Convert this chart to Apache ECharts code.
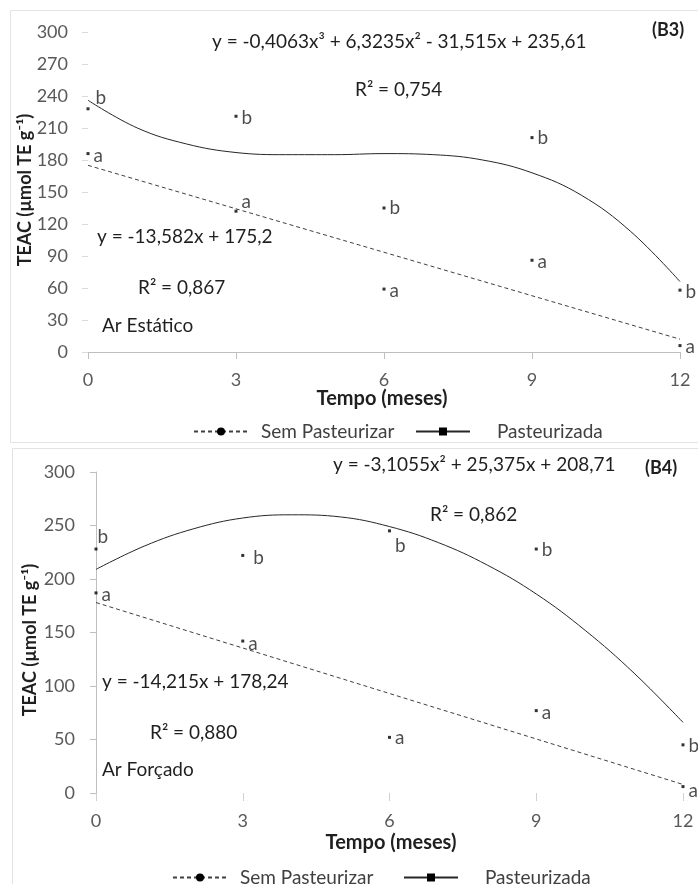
<!DOCTYPE html>
<html>
<head>
<meta charset="utf-8">
<script src="https://cdn.jsdelivr.net/npm/echarts@6/dist/echarts.min.js"></script>
<style>
html,body{margin:0;padding:0;background:#fff;}
#chart{width:698px;height:884px;}
</style>
</head>
<body>
<div id="chart"></div>
<script>
// ---- data ----
const months = [0, 3, 6, 9, 12];
const xTicks = [0, 3, 6, 9, 12];
const yTicksB3 = [0, 30, 60, 90, 120, 150, 180, 210, 240, 270, 300];
const yTicksB4 = [0, 50, 100, 150, 200, 250, 300];

// Panel B3 (Ar Estático)
const b3Pasteurizada = [228, 221, 135, 201, 58];
const b3SemPasteurizar = [186, 132, 59, 86, 6];
const b3PastLetters = ['b', 'b', 'b', 'b', 'b'];
const b3SemLetters = ['a', 'a', 'a', 'a', 'a'];

// Panel B4 (Ar Forçado)
const b4Pasteurizada = [228, 222, 245, 228, 45];
const b4SemPasteurizar = [187, 142, 52, 77, 6];
const b4PastLetters = ['b', 'b', 'b', 'b', 'b'];
const b4SemLetters = ['a', 'a', 'a', 'a', 'a'];

// Trend lines
const curveMonths = [0, 1, 2, 3, 4, 5, 6, 7, 8, 9, 10, 11, 12];
const b3PastTrend = [236, 210, 195, 187, 185, 185, 186, 185, 180, 168, 147, 113, 66];
const b4PastTrend = [209, 231, 247, 257, 260, 258, 249, 234, 213, 186, 152, 112, 66];
const lineMonths = [0, 12];
const b3SemTrend = [175, 12];
const b4SemTrend = [178, 8];

// ---- styling (kept apart from the data) ----
const FONT = 'Lato';
const b3PastOffsets = [[2, -11], [0, 2], [0, 0], [0, 0], [0, 2]];
const b3SemOffsets = [[0, 2], [0, -9], [0, 2], [0, 2], [0, 1]];
const b4PastOffsets = [[-4, -12], [5, 2], [0, 15], [0, 1], [0, 1]];
const b4SemOffsets = [[0, 2], [0, 3], [0, 1], [0, 2], [0, 4]];

function pts(xs, ys, letters, offsets) {
  return xs.map((x, i) => ({
    value: [x, ys[i]],
    label: { formatter: letters[i], offset: offsets[i] }
  }));
}
function pairs(xs, ys) { return xs.map((x, i) => [x, ys[i]]); }

function scatter(name, idx, data) {
  return {
    name: name, type: 'scatter', xAxisIndex: idx, yAxisIndex: idx,
    symbol: 'rect', symbolSize: 3,
    itemStyle: { color: '#000' },
    label: { show: true, position: 'right', distance: 4,
      color: '#1f1f1f', fontSize: 19, fontFamily: FONT },
    data: data, z: 5
  };
}
function semLine(idx, data) {
  return {
    name: 'Sem Pasteurizar', type: 'line', xAxisIndex: idx, yAxisIndex: idx,
    symbol: 'circle', showSymbol: false,
    lineStyle: { type: [4, 3], width: 1, color: '#404040' },
    itemStyle: { color: '#000' },
    data: data, z: 3
  };
}
function pastLine(idx, data) {
  return {
    name: 'Pasteurizada', type: 'line', xAxisIndex: idx, yAxisIndex: idx,
    symbol: 'rect', showSymbol: false, smooth: 0.4,
    lineStyle: { type: 'solid', width: 1, color: '#262626' },
    itemStyle: { color: '#000' },
    data: data, z: 3
  };
}

const tickLabel = { color: '#595959', fontSize: 18, fontFamily: FONT };

function txt(x, y, s, opts) {
  return Object.assign({
    type: 'text', x: x, y: y,
    style: Object.assign({ text: s, fill: '#1f1f1f', font: '19px ' + FONT,
      textVerticalAlign: 'middle', textAlign: 'left' }, (opts && opts.style) || {})
  }, opts && opts.rotation !== undefined ? { rotation: opts.rotation } : {});
}

function legendItem(name, left, top, gap) {
  return {
    data: [name], left: left, top: top, orient: 'horizontal',
    itemWidth: 54, itemHeight: 10, selectedMode: false,
    lineStyle: { width: 2 },
    textStyle: { color: '#404040', fontSize: 19, fontFamily: FONT, padding: [0, 0, 0, gap] }
  };
}

const chart = echarts.init(document.getElementById('chart'));
chart.setOption({
  animation: false,
  backgroundColor: '#fff',
  grid: [
    { left: 88, top: 32, width: 592, height: 320 },
    { left: 96, top: 472, width: 587, height: 321 }
  ],
  xAxis: [
    { type: 'value', gridIndex: 0, min: xTicks[0], max: xTicks[xTicks.length - 1], interval: 3,
      axisLine: { show: true, lineStyle: { color: '#bfbfbf' } },
      axisTick: { show: true, length: 7, lineStyle: { color: '#bfbfbf' } },
      splitLine: { show: false },
      axisLabel: Object.assign({ margin: 19 }, tickLabel) },
    { type: 'value', gridIndex: 1, min: xTicks[0], max: xTicks[xTicks.length - 1], interval: 3,
      axisLine: { show: false },
      axisTick: { show: true, length: 8, lineStyle: { color: '#d0d0d0' } },
      splitLine: { show: false },
      axisLabel: Object.assign({ margin: 19 }, tickLabel) }
  ],
  yAxis: [
    { type: 'value', gridIndex: 0, min: yTicksB3[0], max: yTicksB3[yTicksB3.length - 1], interval: 30,
      axisLine: { show: false },
      axisTick: { show: true, length: 6, lineStyle: { color: '#d9d9d9' } },
      splitLine: { show: false },
      axisLabel: Object.assign({ margin: 20 }, tickLabel) },
    { type: 'value', gridIndex: 1, min: yTicksB4[0], max: yTicksB4[yTicksB4.length - 1], interval: 50,
      axisLine: { show: true, lineStyle: { color: '#bfbfbf' } },
      axisTick: { show: true, length: 6, lineStyle: { color: '#bfbfbf' } },
      splitLine: { show: false },
      axisLabel: Object.assign({ margin: 21 }, tickLabel) }
  ],
  legend: [
    legendItem('Sem Pasteurizar', 188, 417, 8),
    legendItem('Pasteurizada', 410, 417, 22),
    legendItem('Sem Pasteurizar', 167, 863, 8),
    legendItem('Pasteurizada', 398, 863, 22)
  ],
  series: [
    semLine(0, pairs(lineMonths, b3SemTrend)),
    pastLine(0, pairs(curveMonths, b3PastTrend)),
    scatter('B3 Pasteurizada', 0, pts(months, b3Pasteurizada, b3PastLetters, b3PastOffsets)),
    scatter('B3 Sem Pasteurizar', 0, pts(months, b3SemPasteurizar, b3SemLetters, b3SemOffsets)),
    semLine(1, pairs(lineMonths, b4SemTrend)),
    pastLine(1, pairs(curveMonths, b4PastTrend)),
    scatter('B4 Pasteurizada', 1, pts(months, b4Pasteurizada, b4PastLetters, b4PastOffsets)),
    scatter('B4 Sem Pasteurizar', 1, pts(months, b4SemPasteurizar, b4SemLetters, b4SemOffsets))
  ],
  graphic: [
    { type: 'rect', shape: { x: 10.5, y: 10.5, width: 700, height: 432 },
      style: { fill: 'none', stroke: '#e3e3e3', lineWidth: 1 }, silent: true },
    { type: 'rect', shape: { x: 12.5, y: 448.5, width: 700, height: 450 },
      style: { fill: 'none', stroke: '#e3e3e3', lineWidth: 1 }, silent: true },
    // B3 annotations
    txt(212, 42, 'y = -0,4063x³ + 6,3235x² - 31,515x + 235,61'),
    txt(652, 30, '(B3)', { style: { font: 'bold 18px ' + FONT } }),
    txt(355, 90, 'R² = 0,754'),
    txt(97, 237, 'y = -13,582x + 175,2'),
    txt(138, 288, 'R² = 0,867'),
    txt(102, 326, 'Ar Estático'),
    txt(25, 190, 'TEAC (µmol TE g⁻¹)', { rotation: Math.PI / 2,
      style: { font: 'bold 18px ' + FONT, textAlign: 'center', fill: '#1f1f1f' } }),
    txt(382, 399, 'Tempo (meses)', { style: { font: 'bold 20px ' + FONT, textAlign: 'center' } }),
    // B4 annotations
    txt(333, 465, 'y = -3,1055x² + 25,375x + 208,71'),
    txt(645, 468, '(B4)', { style: { font: 'bold 18px ' + FONT } }),
    txt(430, 515, 'R² = 0,862'),
    txt(102, 682, 'y = -14,215x + 178,24'),
    txt(150, 733, 'R² = 0,880'),
    txt(102, 770, 'Ar Forçado'),
    txt(30, 640, 'TEAC (µmol TE g⁻¹)', { rotation: Math.PI / 2,
      style: { font: 'bold 18px ' + FONT, textAlign: 'center', fill: '#1f1f1f' } }),
    txt(391, 843, 'Tempo (meses)', { style: { font: 'bold 20px ' + FONT, textAlign: 'center' } })
  ]
});
</script>
</body>
</html>
